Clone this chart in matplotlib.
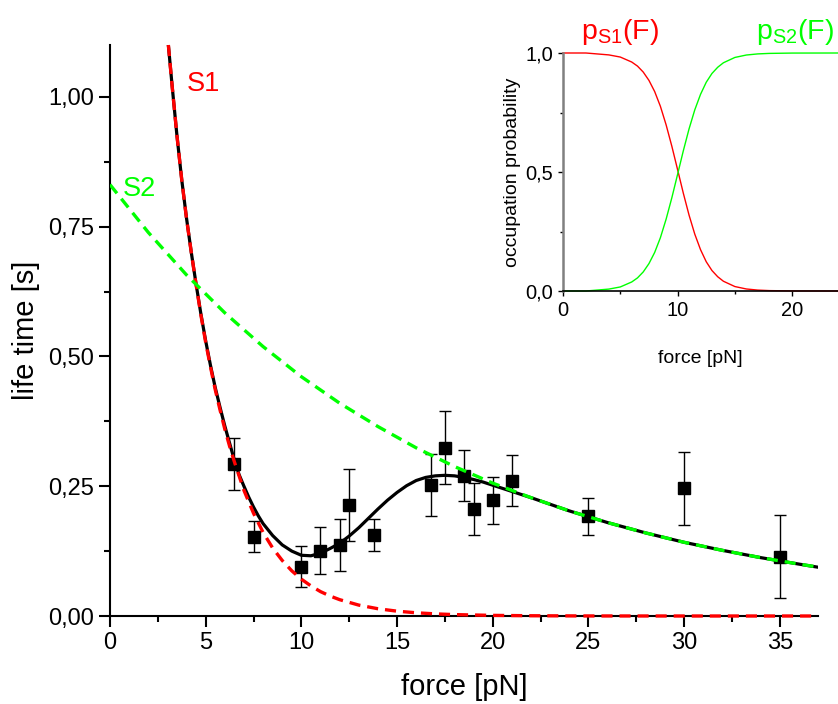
import matplotlib
matplotlib.use("Agg")
import matplotlib.pyplot as plt
from matplotlib.ticker import MultipleLocator, FuncFormatter

plt.rcParams['font.family'] = ['Liberation Sans', 'DejaVu Sans']
plt.rcParams['mathtext.fontset'] = 'custom'
plt.rcParams['mathtext.rm'] = 'Liberation Sans'
plt.rcParams['lines.scale_dashes'] = False

# ---------------- data: measured life times ----------------
force = [6.5, 7.5, 10, 11, 12, 12.5, 13.8, 16.8, 17.5, 18.5, 19, 20, 21, 25, 30, 35]
life_time = [0.293, 0.153, 0.095, 0.126, 0.137, 0.214, 0.156, 0.253, 0.324, 0.270,
             0.207, 0.223, 0.261, 0.192, 0.246, 0.114]
life_err = [0.050, 0.030, 0.040, 0.045, 0.050, 0.070, 0.030, 0.060, 0.070, 0.049,
            0.050, 0.045, 0.050, 0.035, 0.070, 0.080]

# ---------------- model curves ----------------
s1_x = [3.05, 3.25, 3.5, 3.75, 4.0, 4.25, 4.5, 4.75, 5.0, 5.25, 5.5, 5.75, 6.0, 6.25,
        6.5, 7.0, 7.5, 8.0, 8.5, 9.0, 9.5, 10.0, 10.5, 11.0, 11.5, 12.0, 13.0, 14.0,
        15.0, 16.0, 17.0, 18.0, 20.0, 22.0, 25.0, 30.0, 37.0]
s1_y = [1.10, 1.02, 0.925, 0.84, 0.765, 0.70, 0.638, 0.58, 0.527, 0.48, 0.436, 0.397,
        0.36, 0.327, 0.297, 0.242, 0.198, 0.161, 0.131, 0.107, 0.087, 0.071, 0.058,
        0.047, 0.0385, 0.0315, 0.021, 0.014, 0.0093, 0.0062, 0.0041, 0.0027, 0.0012,
        0.0005, 0.0001, 0.0, 0.0]

s2_x = [0, 2, 4, 6, 8, 10, 12, 14, 16, 18, 20, 22, 24, 26, 28, 30, 32, 34, 36, 37]
s2_y = [0.831, 0.739, 0.657, 0.584, 0.519, 0.461, 0.410, 0.365, 0.324, 0.288, 0.256,
        0.228, 0.2025, 0.180, 0.160, 0.142, 0.1265, 0.1125, 0.100, 0.0943]

total_x = [3.05, 3.25, 3.5, 3.75, 4.0, 4.25, 4.5, 4.75, 5.0, 5.25, 5.5, 5.75, 6.0, 6.25,
           6.5, 6.75, 7.0, 7.25, 7.5, 7.75, 8.0, 8.5, 9.0, 9.5, 10.0, 10.5, 11.0, 11.5,
           12.0, 12.5, 13.0, 13.5, 14.0, 14.5, 15.0, 15.5, 16.0, 16.5, 17.0, 17.5, 18.0,
           18.5, 19.0, 19.5, 20.0, 21.0, 22.0, 24.0, 26.0, 28.0, 30.0, 32.0, 34.0, 36.0, 37.0]
total_y = [1.10, 1.02, 0.925, 0.84, 0.766, 0.70, 0.639, 0.582, 0.530, 0.483, 0.440, 0.402,
           0.366, 0.333, 0.300, 0.272, 0.250, 0.229, 0.210, 0.193, 0.178, 0.155, 0.137,
           0.125, 0.117, 0.116, 0.121, 0.130, 0.140, 0.154, 0.170, 0.188, 0.206, 0.223,
           0.238, 0.251, 0.261, 0.267, 0.270, 0.271, 0.270, 0.267, 0.263, 0.258, 0.252,
           0.240, 0.228, 0.2025, 0.180, 0.160, 0.142, 0.1265, 0.1125, 0.100, 0.094]

# ---------------- inset: occupation probabilities ----------------
p_x = [0, 2, 4, 5, 6, 6.5, 7, 7.5, 8, 8.5, 9, 9.5, 10, 10.5, 11, 11.5, 12, 12.5, 13,
       13.5, 14, 15, 16, 17, 18, 20, 24]
p_s1 = [1.0, 1.0, 0.992, 0.983, 0.962, 0.945, 0.920, 0.885, 0.838, 0.776, 0.698, 0.608,
        0.510, 0.411, 0.319, 0.239, 0.174, 0.123, 0.086, 0.060, 0.041, 0.0187, 0.0085,
        0.0038, 0.0017, 0.0003, 0.0]
p_s2 = [0.0, 0.0, 0.008, 0.017, 0.038, 0.055, 0.080, 0.115, 0.162, 0.224, 0.302, 0.392,
        0.490, 0.589, 0.681, 0.761, 0.826, 0.877, 0.914, 0.940, 0.959, 0.9813, 0.9915,
        0.9962, 0.9983, 0.9997, 1.0]

RED = '#ff0000'
GREEN = '#00ff00'

fig = plt.figure(figsize=(8.38, 7.04), dpi=100)
ax = fig.add_axes([110/838, 88/704, 708/838, 571/704])

ax.errorbar(force, life_time, yerr=life_err, fmt='s', color='black', ms=8.5,
            capsize=4.5, elinewidth=1, capthick=1, zorder=2)
ax.plot(total_x, total_y, color='black', lw=2.3, zorder=2.2)
ax.plot(s1_x, s1_y, color=RED, lw=2.4, dashes=(8, 5), zorder=3, clip_on=False)
ax.plot(s2_x, s2_y, color=GREEN, lw=2.4, dashes=(8, 5), zorder=3)

ax.text(4.03, 1.012, 'S1', color=RED, fontsize=19.5)
ax.text(0.68, 0.809, 'S2', color=GREEN, fontsize=19.5)

ax.set_xlim(0, 37)
ax.set_ylim(0, 1.1)
ax.xaxis.set_major_locator(MultipleLocator(5))
ax.xaxis.set_minor_locator(MultipleLocator(2.5))
ax.yaxis.set_major_locator(MultipleLocator(0.25))
ax.yaxis.set_minor_locator(MultipleLocator(0.125))
ax.yaxis.set_major_formatter(FuncFormatter(lambda v, p: f"{v:.2f}".replace('.', ',')))
ax.tick_params(which='major', direction='out', length=8, width=1.5, labelsize=17)
ax.tick_params(which='minor', direction='out', length=4, width=1.5)
for s in ['top', 'right']:
    ax.spines[s].set_visible(False)
for s in ['left', 'bottom']:
    ax.spines[s].set_linewidth(1.5)
ax.set_xlabel('force [pN]', fontsize=21, labelpad=14)
ax.set_ylabel('life time [s]', fontsize=21, labelpad=6)

# inset
axi = fig.add_axes([563/838, (704-291)/704, 275/838, 238/704])
axi.patch.set_alpha(0)
axi.plot(p_x, p_s1, color=RED, lw=1.0, clip_on=False)
axi.plot(p_x, p_s2, color=GREEN, lw=1.0, clip_on=False)
axi.set_xlim(0, 24)
axi.set_ylim(0, 1)
axi.xaxis.set_major_locator(MultipleLocator(10))
axi.xaxis.set_minor_locator(MultipleLocator(5))
axi.yaxis.set_major_locator(MultipleLocator(0.5))
axi.yaxis.set_minor_locator(MultipleLocator(0.25))
axi.yaxis.set_major_formatter(FuncFormatter(lambda v, p: f"{v:.1f}".replace('.', ',')))
axi.tick_params(which='major', direction='out', length=3.5, width=1, labelsize=14.5)
axi.tick_params(which='minor', direction='out', length=2, width=1)
for s in ['top', 'right']:
    axi.spines[s].set_visible(False)
axi.spines['left'].set_color('#808080')
axi.spines['left'].set_linewidth(1.8)
axi.spines['bottom'].set_linewidth(1.2)
axi.set_xlabel('force [pN]', fontsize=14, labelpad=22)
axi.set_ylabel('occupation probability', fontsize=14, labelpad=3)

fig.text(581/838, (704-39)/704, r'$\mathregular{p_{S1}(F)}$', color=RED, fontsize=20.5,
         va='baseline')
fig.text(756/838, (704-39)/704, r'$\mathregular{p_{S2}(F)}$', color=GREEN, fontsize=20.5,
         va='baseline')

fig.savefig('out.png', dpi=100)
